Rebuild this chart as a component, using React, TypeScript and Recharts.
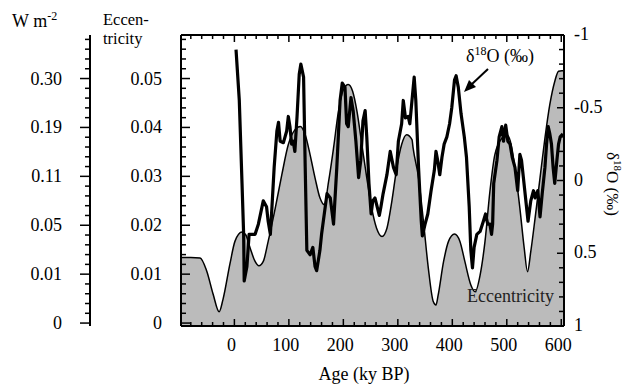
import { Area, ComposedChart, Line, XAxis, YAxis } from "recharts";

const FONT = '"Liberation Serif", "Times New Roman", Times, serif';

// eccentricity curve (grey)
const eccAges = [
  -98, -80, -63, -51, -39, -28, -21, -8, 1, 14, 21, 29, 38, 45, 53, 62, 75, 87, 99, 111, 121, 130, 139, 148, 157, 165,
  173, 182, 191, 200, 209, 217, 225, 234, 243, 252, 261, 271, 280, 289, 298, 307, 316, 326, 328, 338, 347, 356, 365,
  370, 374, 384, 393, 404, 414, 423, 434, 442, 451, 460, 469, 478, 491, 500, 508, 515, 524, 532, 538, 544, 552, 561,
  570, 579, 588, 595, 601, 605,
];
const eccValues = [
  0.0134, 0.0134, 0.0133, 0.0107, 0.0059, 0.0023, 0.0048, 0.0122, 0.0167, 0.0186, 0.018, 0.0153, 0.0126, 0.0117,
  0.0126, 0.0167, 0.0235, 0.0303, 0.0365, 0.0395, 0.0402, 0.0385, 0.0344, 0.0297, 0.0256, 0.0242, 0.029, 0.0358,
  0.0433, 0.0477, 0.0488, 0.0474, 0.0433, 0.0365, 0.0297, 0.0235, 0.0194, 0.0177, 0.0194, 0.0249, 0.0317, 0.0365,
  0.0385, 0.0375, 0.0358, 0.0297, 0.0208, 0.0112, 0.0044, 0.0037, 0.0057, 0.0126, 0.0167, 0.0182, 0.0167, 0.0126,
  0.0078, 0.0064, 0.0098, 0.0167, 0.0269, 0.0344, 0.0378, 0.0385, 0.0365, 0.0317, 0.0235, 0.0153, 0.0105, 0.0146,
  0.0215, 0.0297, 0.0378, 0.0447, 0.0494, 0.0515, 0.0516, 0.0516,
];

// δ18O record (thick line)
const d18Ages = [
  3, 9, 14, 17, 18, 23, 27, 31, 38, 44, 53, 59, 62, 66, 69, 73, 78, 81, 84, 90, 96, 99, 102, 105, 108, 111, 115, 119,
  122, 127, 130, 133, 139, 144, 148, 151, 157, 160, 170, 176, 182, 188, 194, 198, 203, 206, 209, 214, 218, 223, 228,
  232, 236, 240, 243, 247, 251, 254, 258, 262, 266, 269, 273, 280, 286, 292, 297, 301, 307, 310, 314, 319, 322, 327,
  330, 333, 338, 343, 345, 350, 355, 361, 367, 370, 373, 377, 381, 385, 390, 395, 399, 404, 407, 411, 416, 422, 426,
  431, 434, 437, 440, 445, 451, 457, 461, 465, 469, 472, 474, 476, 482, 486, 491, 494, 498, 502, 506, 510, 515, 520,
  524, 527, 533, 539, 544, 549, 552, 557, 561, 565, 570, 573, 576, 579, 582, 585, 588, 592, 595, 598, 603,
];
const d18Values = [
  -0.9, -0.55, 0.02, 0.37, 0.69, 0.59, 0.37, 0.37, 0.37, 0.3, 0.14, 0.18, 0.28, 0.37, 0.18, -0.09, -0.34, -0.4, -0.27,
  -0.26, -0.34, -0.44, -0.37, -0.25, -0.27, -0.2, -0.44, -0.73, -0.8, -0.71, -0.09, 0.48, 0.51, 0.46, 0.59, 0.62, 0.48,
  0.37, 0.09, 0.12, 0.3, -0.09, -0.55, -0.67, -0.64, -0.39, -0.37, -0.57, -0.48, -0.27, -0.02, -0.14, -0.41, -0.48,
  -0.3, 0.02, 0.23, 0.14, 0.12, 0.18, 0.24, 0.18, 0.09, -0.04, -0.2, -0.09, -0.04, -0.27, -0.39, -0.55, -0.43, -0.44,
  -0.39, -0.59, -0.71, -0.55, -0.09, 0.28, 0.38, 0.3, 0.23, 0.07, -0.07, -0.2, -0.14, -0.04, -0.16, -0.25, -0.3, -0.39,
  -0.5, -0.69, -0.72, -0.64, -0.46, -0.3, -0.16, 0.18, 0.48, 0.6, 0.46, 0.37, 0.35, 0.28, 0.23, 0.3, 0.3, 0.37, 0.3,
  0.02, -0.14, -0.3, -0.37, -0.27, -0.38, -0.27, -0.25, -0.16, -0.09, 0.07, -0.18, -0.14, 0.07, 0.28, 0.14, 0.07, 0.12,
  0.07, 0.25, 0.09, -0.09, -0.25, -0.37, -0.32, -0.25, -0.09, 0.02, -0.14, -0.25, -0.3, -0.32,
];

const ageTicks = [
  -80, -60, -40, -20, 0, 20, 40, 60, 80, 100, 120, 140, 160, 180, 200, 220, 240, 260, 280, 300, 320, 340, 360, 380, 400,
  420, 440, 460, 480, 500, 520, 540, 560, 580, 600,
];
const eccTicks = [
  0, 0.002, 0.004, 0.006, 0.008, 0.01, 0.012, 0.014, 0.016, 0.018, 0.02, 0.022, 0.024, 0.026, 0.028, 0.03, 0.032,
  0.034, 0.036, 0.038, 0.04, 0.042, 0.044, 0.046, 0.048, 0.05, 0.052, 0.054, 0.056, 0.058,
];
const eccLabels = ["0", "0.01", "0.02", "0.03", "0.04", "0.05"];
const wm2Labels = ["0", "0.01", "0.05", "0.11", "0.19", "0.30"];
const d18Ticks = [
  -1, -0.9, -0.8, -0.7, -0.6, -0.5, -0.4, -0.3, -0.2, -0.1, 0, 0.1, 0.2, 0.3, 0.4, 0.5, 0.6, 0.7, 0.8, 0.9, 1,
];
const d18Labels = ["-1", "-0.5", "0", "0.5", "1"];

const AGE_DOMAIN = [-98, 605];
const ECC_DOMAIN = [-0.0006, 0.0589];

const eccData = eccAges.map((age, i) => ({ age, ecc: eccValues[i] }));
const d18Data = d18Ages.map((age, i) => ({ age, d18: d18Values[i] }));

const frame = { stroke: "#000", strokeWidth: 2 };
const txt = { fontFamily: FONT, fill: "#000" };

function BottomTick({ x, y, payload }: any) {
  const v = payload.value;
  const major = v % 100 === 0;
  return (
    <g>
      <line x1={x} x2={x} y1={y} y2={y - (major ? 7 : 4)} stroke="#000" strokeWidth={1.5} />
      {major && v >= 0 && (
        <text x={x - 3} y={y + 25} textAnchor="middle" fontSize={18} style={txt}>
          {v}
        </text>
      )}
    </g>
  );
}

function TopTick({ x, y, payload }: any) {
  const major = payload.value % 100 === 0;
  return <line x1={x} x2={x} y1={y} y2={y + (major ? 7 : 4)} stroke="#000" strokeWidth={1.5} />;
}

function EccTick({ x, y, payload }: any) {
  const i = eccTicks.indexOf(payload.value);
  const major = i % 5 === 0;
  return (
    <g>
      <line x1={x} x2={x + (major ? 9 : 5)} y1={y} y2={y} stroke="#000" strokeWidth={1.5} />
      {major && (
        <text x={x - 19} y={y + 6} textAnchor="end" fontSize={18} style={txt}>
          {eccLabels[i / 5]}
        </text>
      )}
    </g>
  );
}

function Wm2Tick({ x, y, payload }: any) {
  const i = eccTicks.indexOf(payload.value);
  const major = i % 5 === 0;
  return (
    <g>
      <line x1={x} x2={x - (major ? 10 : 5)} y1={y} y2={y} stroke="#000" strokeWidth={1.5} />
      {major && (
        <text x={x - 28} y={y + 6} textAnchor="end" fontSize={18} style={txt}>
          {wm2Labels[i / 5]}
        </text>
      )}
    </g>
  );
}

function D18Tick({ x, y, payload }: any) {
  const i = d18Ticks.indexOf(payload.value);
  const major = i % 5 === 0;
  return (
    <g>
      <line x1={x} x2={x - (major ? 7 : 5)} y1={y} y2={y} stroke="#000" strokeWidth={1.5} />
      {major && (
        <text x={x + 10} y={y + 5} textAnchor="start" fontSize={18} style={txt}>
          {d18Labels[i / 5]}
        </text>
      )}
    </g>
  );
}

export default function App() {
  return (
    <div style={{ position: "absolute", left: 0, top: 0, width: 626, height: 388, background: "#fff" }}>
      <ComposedChart width={626} height={388} margin={{ top: 0, right: 0, bottom: 0, left: 0 }}>
        <XAxis
          xAxisId="bottom"
          type="number"
          dataKey="age"
          orientation="bottom"
          domain={AGE_DOMAIN}
          allowDataOverflow
          ticks={ageTicks}
          interval={0}
          height={62}
          tickSize={0}
          tickMargin={0}
          tickLine={false}
          axisLine={frame}
          tick={BottomTick}
        />
        <XAxis
          xAxisId="top"
          type="number"
          dataKey="age"
          orientation="top"
          domain={AGE_DOMAIN}
          allowDataOverflow
          ticks={ageTicks}
          interval={0}
          height={35}
          tickSize={0}
          tickMargin={0}
          tickLine={false}
          axisLine={frame}
          tick={TopTick}
        />
        <YAxis
          yAxisId="ecc"
          orientation="left"
          type="number"
          domain={ECC_DOMAIN}
          allowDataOverflow
          ticks={eccTicks}
          interval={0}
          width={91}
          tickSize={0}
          tickMargin={0}
          tickLine={false}
          axisLine={frame}
          tick={EccTick}
        />
        <YAxis
          yAxisId="wm2"
          orientation="left"
          type="number"
          domain={ECC_DOMAIN}
          allowDataOverflow
          ticks={eccTicks}
          interval={0}
          width={90}
          tickSize={0}
          tickMargin={0}
          tickLine={false}
          axisLine={frame}
          tick={Wm2Tick}
        />
        <YAxis
          yAxisId="d18"
          orientation="right"
          type="number"
          domain={[-1, 1]}
          reversed
          allowDataOverflow
          ticks={d18Ticks}
          interval={0}
          width={62}
          tickSize={0}
          tickMargin={0}
          tickLine={false}
          axisLine={frame}
          tick={D18Tick}
        />
        <Area
          data={eccData}
          xAxisId="bottom"
          yAxisId="ecc"
          dataKey="ecc"
          type="monotone"
          stroke="#000"
          strokeWidth={1.5}
          fill="#bbbbbb"
          fillOpacity={1}
          baseValue={ECC_DOMAIN[0]}
          isAnimationActive={false}
        />
        <Line
          data={d18Data}
          xAxisId="bottom"
          yAxisId="d18"
          dataKey="d18"
          type="linear"
          stroke="#000"
          strokeWidth={3.2}
          strokeLinejoin="round"
          dot={false}
          isAnimationActive={false}
        />
      </ComposedChart>
      <svg
        width={626}
        height={388}
        style={{ position: "absolute", left: 0, top: 0, pointerEvents: "none", fontFamily: FONT }}
      >
        <text x={12} y={27} fontSize={18} style={txt}>
          W m<tspan fontSize={12} dy={-7}>-2</tspan>
        </text>
        <text x={103} y={25} fontSize={16.5} style={txt}>
          Eccen-
        </text>
        <text x={103} y={44} fontSize={16.5} style={txt}>
          tricity
        </text>
        <text x={364} y={380} fontSize={18} textAnchor="middle" style={txt}>
          Age (ky BP)
        </text>
        <text x={466} y={62} fontSize={18} style={txt}>
          δ<tspan fontSize={12} dy={-7}>18</tspan>
          <tspan dy={7}>O (‰)</tspan>
        </text>
        <line x1={488} y1={69} x2={472} y2={84} stroke="#000" strokeWidth={2} />
        <polygon points="464,92 469,80 476,87" fill="#000" />
        <text x={467} y={302} fontSize={18} style={{ ...txt, fill: "#222" }}>
          Eccentricity
        </text>
        <text transform="translate(607,184) rotate(90)" textAnchor="middle" fontSize={17} style={txt}>
          δ<tspan fontSize={11} dy={-7}>18</tspan>
          <tspan dy={7}>O (‰)</tspan>
        </text>
      </svg>
    </div>
  );
}
